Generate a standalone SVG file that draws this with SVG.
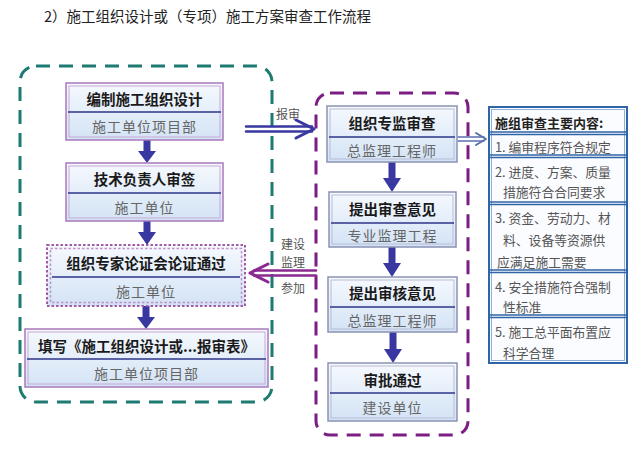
<svg xmlns="http://www.w3.org/2000/svg" width="640" height="454" viewBox="0 0 640 454">
<defs>
<linearGradient id="g" x1="0" y1="0" x2="0" y2="1">
<stop offset="0" stop-color="#f6f9fe"/>
<stop offset="1" stop-color="#d3e3f5"/>
</linearGradient>
<style>
.t{font-family:"Noto Sans CJK SC","Noto Sans",sans-serif;}
.title{font-size:14.5px;fill:#222;}
.h{font-size:14.5px;font-weight:bold;fill:#1a1a1a;text-anchor:middle;dominant-baseline:central;}
.s{font-size:14px;fill:#666;text-anchor:middle;dominant-baseline:central;letter-spacing:1px;}
.l{font-size:12.8px;fill:#555;dominant-baseline:central;}
.lb{font-size:13px;font-weight:bold;fill:#222;dominant-baseline:central;}
.lab{font-size:12px;fill:#555;text-anchor:middle;dominant-baseline:central;}
.sec{fill:url(#g);}
.bl{fill:none;stroke:#a878bc;stroke-width:1.5;}
.bi{fill:none;stroke:#c8a8d6;stroke-width:1;}
.br{fill:none;stroke:#8c92b4;stroke-width:1.5;}
.bri{fill:none;stroke:#b8bcd4;stroke-width:1;}
.div{stroke:#2c3488;stroke-width:1.5;}
.ar{fill:#3838a0;}
</style>
</defs>
<text class="t title" x="44" y="22">2）施工组织设计或（专项）施工方案审查工作流程</text>

<g id="group-left">
<rect x="20" y="66" width="252" height="336" rx="16" fill="none" stroke="#1d7b72" stroke-width="3" stroke-dasharray="14 9"/>
</g>
<g id="group-right">
<rect x="316" y="93" width="152" height="342" rx="14" fill="none" stroke="#7b1d82" stroke-width="3" stroke-dasharray="14 9"/>
</g>

<g id="connectors">
<rect class="ar" x="143.5" y="140" width="7" height="12"/>
<polygon class="ar" points="138,151 156,151 147,163"/>
<rect class="ar" x="143.5" y="221" width="7" height="12"/>
<polygon class="ar" points="138,232 156,232 147,245"/>
<rect class="ar" x="142.5" y="306" width="7" height="12"/>
<polygon class="ar" points="137,317 155,317 146,329"/>
<rect class="ar" x="388.5" y="162" width="7" height="17"/>
<polygon class="ar" points="383,178 401,178 392,192"/>
<rect class="ar" x="388.5" y="247" width="7" height="17"/>
<polygon class="ar" points="383,263 401,263 392,277"/>
<rect class="ar" x="389.5" y="332" width="7" height="18"/>
<polygon class="ar" points="384,349 402,349 393,363"/>
<g fill="none" stroke="#3838a0" stroke-linecap="round">
<line x1="246" y1="126.5" x2="312" y2="126.5" stroke-width="2.5"/>
<line x1="246" y1="131.5" x2="312" y2="131.5" stroke-width="2.5"/>
<polyline points="296,120 314,129 296,138" stroke-width="3" stroke-linejoin="round"/>
</g>
<g fill="none" stroke="#5a70b0" stroke-linecap="round">
<line x1="458" y1="137" x2="484" y2="137" stroke-width="1.5"/>
<line x1="458" y1="141" x2="484" y2="141" stroke-width="1.5"/>
<polyline points="476,133 486,139 476,145" stroke-width="2" stroke-linejoin="round"/>
</g>
<g fill="none" stroke="#8a2a90" stroke-linecap="round">
<line x1="254" y1="270.5" x2="316" y2="270.5" stroke-width="2.5"/>
<line x1="254" y1="275.5" x2="316" y2="275.5" stroke-width="2.5"/>
<polyline points="268,264 250,273 268,282" stroke-width="3" stroke-linejoin="round"/>
</g>
<text class="t lab" x="288" y="113">报审</text>
<text class="t lab" x="293" y="243">建设</text>
<text class="t lab" x="293" y="261">监理</text>
<text class="t lab" x="293" y="287">参加</text>
</g>

<g id="n1">
<rect class="sec" x="66" y="83" width="157" height="57"/>
<rect class="bl" x="66" y="83" width="157" height="57"/>
<rect class="bi" x="69" y="86" width="151" height="51"/>
<line class="div" x1="68" y1="112" x2="221" y2="112"/>
<text class="t h" x="144.5" y="98">编制施工组织设计</text>
<text class="t s" x="144.5" y="126">施工单位项目部</text>
</g>
<g id="n2">
<rect class="sec" x="66" y="163" width="157" height="58"/>
<rect class="bl" x="66" y="163" width="157" height="58"/>
<rect class="bi" x="69" y="166" width="151" height="52"/>
<line class="div" x1="68" y1="193" x2="221" y2="193"/>
<text class="t h" x="144.5" y="178">技术负责人审签</text>
<text class="t s" x="144.5" y="207">施工单位</text>
</g>
<g id="n3">
<rect class="sec" x="47" y="245" width="198" height="61"/>
<rect x="47" y="245" width="198" height="61" fill="none" stroke="#a05aa8" stroke-width="2" stroke-dasharray="2.5 2"/>
<rect x="50.5" y="248.5" width="191" height="54" fill="none" stroke="#c090c8" stroke-width="1.5" stroke-dasharray="2.5 2"/>
<line class="div" x1="52" y1="277" x2="240" y2="277"/>
<text class="t h" x="146" y="262">组织专家论证会论证通过</text>
<text class="t s" x="146" y="291">施工单位</text>
</g>
<g id="n4">
<rect class="sec" x="25" y="329" width="243" height="58"/>
<rect class="bl" x="25" y="329" width="243" height="58"/>
<rect class="bi" x="28" y="332" width="237" height="52"/>
<line class="div" x1="27" y1="359" x2="266" y2="359"/>
<text class="t h" x="146.5" y="345">填写《施工组织设计或...报审表》</text>
<text class="t s" x="146.5" y="373">施工单位项目部</text>
</g>

<g id="nA">
<rect class="sec" x="327" y="106" width="130" height="56"/>
<rect class="br" x="327" y="106" width="130" height="56"/>
<rect class="bri" x="330" y="109" width="124" height="50"/>
<line class="div" x1="329" y1="137" x2="455" y2="137"/>
<text class="t h" x="392" y="122">组织专监审查</text>
<text class="t s" x="392" y="150">总监理工程师</text>
</g>
<g id="nB">
<rect class="sec" x="329" y="192" width="127" height="55"/>
<rect class="br" x="329" y="192" width="127" height="55"/>
<rect class="bri" x="332" y="195" width="121" height="49"/>
<line class="div" x1="331" y1="223" x2="454" y2="223"/>
<text class="t h" x="392.5" y="208">提出审查意见</text>
<text class="t s" x="392.5" y="235">专业监理工程</text>
</g>
<g id="nC">
<rect class="sec" x="328" y="277" width="129" height="55"/>
<rect class="br" x="328" y="277" width="129" height="55"/>
<rect class="bri" x="331" y="280" width="123" height="49"/>
<line class="div" x1="330" y1="307" x2="455" y2="307"/>
<text class="t h" x="392.5" y="292">提出审核意见</text>
<text class="t s" x="392.5" y="320">总监理工程师</text>
</g>
<g id="nD">
<rect class="sec" x="328" y="363" width="129" height="58"/>
<rect class="br" x="328" y="363" width="129" height="58"/>
<rect class="bri" x="331" y="366" width="123" height="52"/>
<line class="div" x1="330" y1="393" x2="455" y2="393"/>
<text class="t h" x="392.5" y="379">审批通过</text>
<text class="t s" x="392.5" y="407">建设单位</text>
</g>

<g id="list">
<rect x="489" y="107" width="138" height="256" fill="#fbfcff" stroke="#2f64a6" stroke-width="2"/>
<rect x="491.5" y="109.5" width="133" height="251" fill="none" stroke="#8fb0d8" stroke-width="1"/>
<g stroke="#2f64a6" stroke-width="1.5">
<line x1="489" y1="132" x2="627" y2="132"/><line x1="489" y1="134.5" x2="627" y2="134.5"/>
<line x1="489" y1="155" x2="627" y2="155"/><line x1="489" y1="157.5" x2="627" y2="157.5"/>
<line x1="489" y1="202" x2="627" y2="202"/><line x1="489" y1="204.5" x2="627" y2="204.5"/>
<line x1="489" y1="270" x2="627" y2="270"/><line x1="489" y1="272.5" x2="627" y2="272.5"/>
<line x1="489" y1="315" x2="627" y2="315"/><line x1="489" y1="317.5" x2="627" y2="317.5"/>
</g>
<text class="t lb" x="495" y="122">施组审查主要内容:</text>
<text class="t l" x="495" y="146">1. 编审程序符合规定</text>
<text class="t l" x="495" y="171">2. 进度、方案、质量</text>
<text class="t l" x="503" y="191">措施符合合同要求</text>
<text class="t l" x="495" y="217">3. 资金、劳动力、材</text>
<text class="t l" x="503" y="239">料、设备等资源供</text>
<text class="t l" x="497" y="261">应满足施工需要</text>
<text class="t l" x="495" y="286">4. 安全措施符合强制</text>
<text class="t l" x="503" y="306">性标准</text>
<text class="t l" x="495" y="331">5. 施工总平面布置应</text>
<text class="t l" x="503" y="352">科学合理</text>
</g>
</svg>
